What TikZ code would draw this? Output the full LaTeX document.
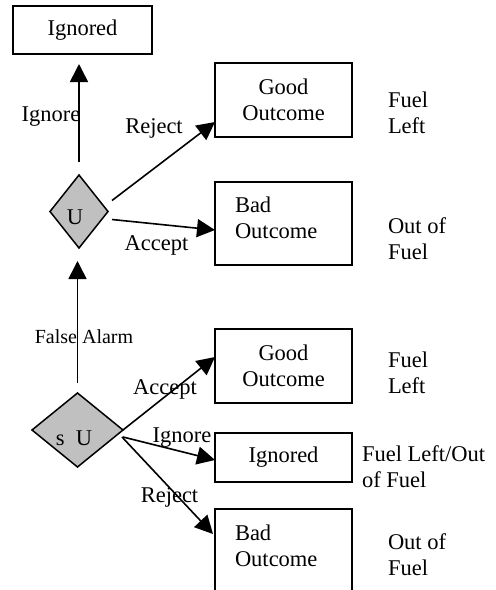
\documentclass[tikz,border=0pt]{standalone}
\usepackage{fontspec}
\setmainfont{Liberation Serif}
\usetikzlibrary{arrows.meta,shapes.geometric}
\definecolor{diamgray}{RGB}{192,192,192}

\begin{document}
\begin{tikzpicture}[x=1pt,y=-1pt,
  every node/.style={font=\fontsize{22.5}{26}\selectfont, inner sep=0pt, outer sep=0pt},
  box/.style={draw, line width=1.8pt, minimum width=137pt, align=center},
  diam/.style={shape=diamond, draw, fill=diamgray, line width=1.5pt},
  arr/.style={line width=1.6pt, -{Triangle[length=18pt,width=18pt]}},
  side/.style={anchor=north west, align=left},
  elabel/.style={anchor=base}]

\useasboundingbox (0,0) rectangle (496,590);
\clip (0,0) rectangle (496,590);

% decision diamonds
\node[diam, minimum width=58pt, minimum height=73pt,
      label={[xshift=-4pt,yshift=-6pt]center:U}] (U) at (79,211.5) {};
\node[diam, minimum width=91pt, minimum height=74pt,
      label={[xshift=-3.5pt,yshift=-8pt]center:s\ \ U}] (sU) at (77.5,430) {};

% outcome boxes
\node[box, minimum width=139pt, minimum height=48pt] (ign1) at (82.5,30) {Ignored};
\node[box, minimum height=74pt] (good1) at (283.5,100) {Good\\Outcome};
\node[box, minimum height=83pt] (bad1) at (283.5,223.5) {};
\node[side] (bad1txt) at (235,197.3) {Bad\\Outcome};
\node[box, minimum height=74pt] (good2) at (283.5,366) {Good\\Outcome};
\node[box, minimum height=49pt] (ign2) at (283.5,457.5) {Ignored};
\node[box, minimum height=101pt] (bad2) at (283.5,559.5) {};
\node[side] (bad2txt) at (235,524.6) {Bad\\Outcome};

% fuel states
\node[side] (fuel1) at (388,91.6) {Fuel\\Left};
\node[side] (fuel2) at (388,217.6) {Out of\\Fuel};
\node[side] (fuel3) at (388,351.6) {Fuel\\Left};
\node[side] (fuel4) at (362,445.6) {Fuel Left/Out\\of Fuel};
\node[side] (fuel5) at (388,533.6) {Out of\\Fuel};

% connectors
\draw[arr, shorten <=13pt, shorten >=10pt] (U.north) -- (U.north |- ign1.south);
\draw[arr] ([xshift=4pt,yshift=11pt]U.east) -- ([yshift=-22pt]good1.west);
\draw[arr] ([xshift=4pt,yshift=-8pt]U.east) -- ([yshift=-6.5pt]bad1.west);
\draw[arr, shorten <=10pt, shorten >=13pt] (sU.north) -- (sU.north |- U.south);
\draw[arr] (sU.east) -- ([yshift=9pt]good2.west);
\draw[arr] ([yshift=-7pt]sU.east) -- ([yshift=-2.5pt]ign2.west);
\draw[arr] ([xshift=-1pt,yshift=-7pt]sU.east) -- ([xshift=-2pt,yshift=-25pt]bad2.north west);

% connector labels
\node[elabel] (lign1) at (51,121.7) {Ignore};
\node[elabel] (lrej1) at (154,133.3) {Reject};
\node[elabel] (lacc1) at (156.6,250) {Accept};
\node[elabel, font=\fontsize{20}{24}\selectfont] (lfalse) at (84,343.5) {False Alarm};
\node[elabel] (lacc2) at (165,394) {Accept};
\node[elabel] (lign2) at (182,442) {Ignore};
\node[elabel] (lrej2) at (169.5,502) {Reject};
\end{tikzpicture}
\end{document}
